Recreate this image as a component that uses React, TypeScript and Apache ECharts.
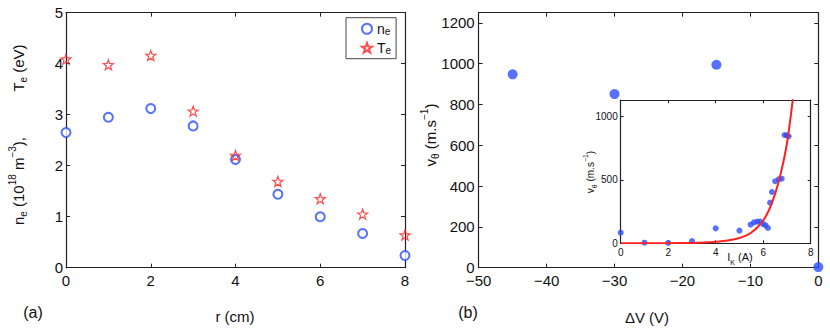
import React, { useEffect, useRef } from "react";
import * as echarts from "echarts";

// Panel (a)
const rValues = [0, 1, 2, 3, 4, 5, 6, 7, 8];
const neValues = [2.65, 2.95, 3.12, 2.78, 2.12, 1.44, 1.0, 0.67, 0.24];
const teValues = [4.09, 3.98, 4.16, 3.07, 2.2, 1.69, 1.35, 1.05, 0.64];

// Panel (b) main
const deltaV = [-45, -30, -15, 0];
const vTheta = [948, 851, 995, 3];

// Panel (b) inset
const ikValues = [0, 1, 2, 3, 4, 5, 5.47, 5.61, 5.75, 5.87, 6.0, 6.1, 6.2, 6.29, 6.37, 6.5, 6.65, 6.78, 6.9, 7.0, 7.07];
const insetV = [84, 5, 3, 18, 118, 100, 147, 166, 171, 171, 152, 142, 121, 321, 405, 490, 505, 510, 855, 852, 845];
const fitIk = [0, 1, 2, 3, 3.5, 4, 4.5, 5, 5.25, 5.5, 5.75, 6, 6.25, 6.5, 6.75, 7, 7.25];
const fitV = [0, 0, 1, 3, 6, 12, 22, 42, 58, 85, 125, 180, 265, 390, 560, 790, 1140];

const FONT = "Liberation Sans, Arial, Helvetica, sans-serif";
const AX = "#222";
const BLUE = "#2d4dff";
const RED = "#ff2020";
const STAR =
  "path://M0,-10 L2.35,-3.24 L9.51,-3.09 L3.8,1.24 L5.88,8.09 L0,4 L-5.88,8.09 L-3.8,1.24 L-9.51,-3.09 L-2.35,-3.24 Z";

const minus = (v: number) => String(v).replace("-", "\u2212");

function axis(opts: any) {
  const { gridIndex, position, min, max, interval, labels, fontSize, margin, tickLen } = opts;
  return {
    type: "value",
    gridIndex,
    position,
    min,
    max,
    interval,
    splitLine: { show: false },
    axisLine: { show: true, onZero: false, lineStyle: { color: AX, width: 1.2 } },
    axisTick: { show: true, inside: true, length: tickLen ?? 4, lineStyle: { color: AX, width: 1 } },
    axisLabel: {
      show: labels,
      showMaxLabel: opts.showMax ?? true,
      color: "#111",
      fontFamily: FONT,
      fontSize,
      margin,
      formatter: minus,
    },
  };
}

function richLabel(size: number) {
  const sub = Math.round(size * 0.68);
  return {
    m: { fontSize: size, lineHeight: size + 6, fontFamily: FONT, fill: "#111", color: "#111" },
    s: { fontSize: sub, lineHeight: sub, verticalAlign: "bottom", fontFamily: FONT, color: "#111" },
    p: { fontSize: sub, lineHeight: sub, verticalAlign: "top", fontFamily: FONT, color: "#111" },
  };
}

function label(text: string, x: number, y: number, size: number, rotate = false) {
  return {
    type: "text",
    x,
    y,
    rotation: rotate ? Math.PI / 2 : 0,
    style: {
      text,
      rich: richLabel(size),
      fontFamily: FONT,
      fontSize: size,
      fill: "#111",
      align: "center",
      verticalAlign: "middle",
    },
    z: 10,
  };
}

export default function App() {
  const ref = useRef<HTMLDivElement>(null);
  useEffect(() => {
    if (!ref.current) return;
    const chart = echarts.init(ref.current, undefined, { renderer: "svg" });
    const option: any = {
      animation: false,
      backgroundColor: "#fff",
      grid: [
        { left: 66, top: 12.7, width: 339, height: 255 },
        { left: 478.7, top: 12.7, width: 339.6, height: 255 },
        { left: 620.7, top: 100.2, width: 190, height: 143.1, show: true, backgroundColor: "#fff", borderWidth: 0, z: 5 },
      ],
      xAxis: [
        axis({ gridIndex: 0, position: "bottom", min: 0, max: 8, interval: 2, labels: true, fontSize: 15, margin: 5 }),
        axis({ gridIndex: 0, position: "top", min: 0, max: 8, interval: 2, labels: false }),
        axis({ gridIndex: 1, position: "bottom", min: -50, max: 0, interval: 10, labels: true, fontSize: 15, margin: 5 }),
        axis({ gridIndex: 1, position: "top", min: -50, max: 0, interval: 10, labels: false }),
        { ...axis({ gridIndex: 2, position: "bottom", min: 0, max: 8, interval: 2, labels: true, fontSize: 10, margin: 4, tickLen: 3 }), z: 6 },
        { ...axis({ gridIndex: 2, position: "top", min: 0, max: 8, interval: 2, labels: false, tickLen: 3 }), z: 6 },
      ],
      yAxis: [
        axis({ gridIndex: 0, position: "left", min: 0, max: 5, interval: 1, labels: true, fontSize: 15, margin: 3 }),
        axis({ gridIndex: 0, position: "right", min: 0, max: 5, interval: 1, labels: false }),
        axis({ gridIndex: 1, position: "left", min: 0, max: 1250, interval: 200, labels: true, fontSize: 15, margin: 4, showMax: false }),
        axis({ gridIndex: 1, position: "right", min: 0, max: 1250, interval: 200, labels: false }),
        { ...axis({ gridIndex: 2, position: "left", min: 0, max: 1130, interval: 500, labels: true, fontSize: 10, margin: 3, showMax: false, tickLen: 3 }), z: 6 },
        { ...axis({ gridIndex: 2, position: "right", min: 0, max: 1130, interval: 500, labels: false, tickLen: 3 }), z: 6 },
      ],
      legend: {
        left: 346,
        top: 17.7,
        orient: "vertical",
        data: ["ne", "Te"],
        padding: [4, 5, 3, 15],
        itemGap: 4,
        itemWidth: 10,
        itemHeight: 10,
        borderColor: "#444",
        borderWidth: 1,
        borderRadius: 0,
        backgroundColor: "#fff",
        formatter: (name: string) => `{m|${name[0]}}{s|${name[1]}}`,
        textStyle: {
          rich: {
            m: { fontSize: 14, lineHeight: 16, fontFamily: FONT, color: "#111" },
            s: { fontSize: 10, lineHeight: 10, verticalAlign: "bottom", fontFamily: FONT, color: "#111" },
          },
        },
      },
      series: [
        {
          name: "ne",
          type: "scatter",
          xAxisIndex: 0,
          yAxisIndex: 0,
          symbol: "emptyCircle",
          symbolSize: 9,
          clip: false,
          itemStyle: { color: BLUE, borderColor: BLUE, borderWidth: 1.2 },
          data: rValues.map((r, i) => [r, neValues[i]]),
        },
        {
          name: "Te",
          type: "scatter",
          xAxisIndex: 0,
          yAxisIndex: 0,
          symbol: STAR,
          symbolSize: 10,
          clip: false,
          itemStyle: { color: "rgba(255,255,255,0)", borderColor: RED, borderWidth: 1.2 },
          data: rValues.map((r, i) => [r, teValues[i]]),
        },
        {
          name: "vmain",
          type: "scatter",
          xAxisIndex: 2,
          yAxisIndex: 2,
          symbol: "circle",
          symbolSize: 10,
          clip: false,
          itemStyle: { color: BLUE },
          data: deltaV.map((v, i) => [v, vTheta[i]]),
        },
        {
          name: "vinset",
          type: "scatter",
          xAxisIndex: 4,
          yAxisIndex: 4,
          symbol: "circle",
          symbolSize: 6,
          clip: false,
          z: 7,
          itemStyle: { color: BLUE },
          data: ikValues.map((v, i) => [v, insetV[i]]),
        },
        {
          name: "fit",
          type: "line",
          xAxisIndex: 4,
          yAxisIndex: 4,
          smooth: 0.3,
          showSymbol: false,
          symbol: "none",
          clip: true,
          z: 8,
          lineStyle: { color: RED, width: 2 },
          data: fitIk.map((v, i) => [v, fitV[i]]),
        },
      ],
      graphic: [
        label("{m|n}{s|e}{m| (10}{p|18}{m| m}{p|\u22123}{m|),}", 18, 181, 15, true),
        label("{m|T}{s|e}{m| (eV)}", 18, 68, 15, true),
        label("{m|r (cm)}", 235, 316, 15),
        label("{m|(a)}", 33, 312, 16),
        label("{m|v}{s|\u03b8}{m| (m.s}{p|\u22121}{m|)}", 430, 135, 15, true),
        label("{m|\u0394V (V)}", 647, 317, 15),
        label("{m|(b)}", 468, 312, 16),
        label("{m|v}{s|\u03b8}{m| (m.s}{p|\u22121}{m|)}", 590, 172, 10, true),
        label("{m|I}{s|K}{m| (A)}", 740, 257, 11),
      ],
    };
    chart.setOption(option);
    return () => chart.dispose();
  }, []);
  return (
    <div
      ref={ref}
      style={{ position: "fixed", left: 0, top: 0, width: 830, height: 329, background: "#fff" }}
    />
  );
}
